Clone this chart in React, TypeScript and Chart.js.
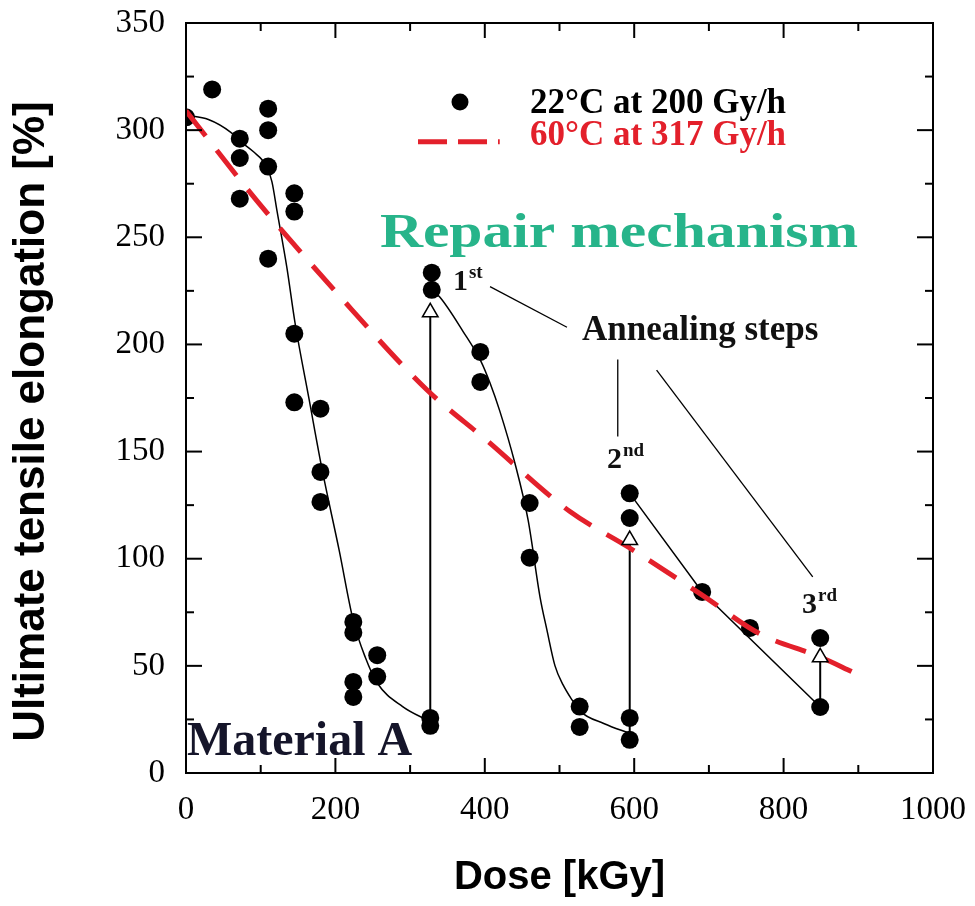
import React, { useEffect, useRef } from "react";
import { Chart, registerables } from "chart.js";

Chart.register(...registerables);

// ---- Data ----
// 22°C at 200 Gy/h : measured points
const doseA = [0, 35, 72, 72, 72, 110, 110, 110, 110, 145, 145, 145, 145, 180, 180, 180, 224, 224, 224, 224, 256, 256, 327, 327, 329, 329, 394, 394, 460, 460, 527, 527, 594, 594, 594, 594, 691, 755, 849, 849];
const elongA = [306, 319, 296, 287, 268, 310, 300, 283, 240, 270.5, 262, 205, 173, 170, 140.5, 126.5, 70.5, 65.5, 42.5, 35.5, 55, 45, 25.7, 22, 233.5, 225.5, 196.5, 182.5, 126, 100.5, 31, 21.5, 25.7, 15.5, 130.5, 119, 84.5, 67.7, 63, 30.8];

// Fitted curves for the 22°C data (three degradation segments)
const fit1Dose = [0, 30, 60, 72, 90, 108, 115, 122, 135, 146, 165, 182, 205, 224, 240, 256, 290, 327];
const fit1Elong = [307, 305, 299, 295, 290, 283, 276, 262, 236, 210, 174, 142, 104, 71, 54, 42, 31, 24];
const fit2Dose = [329, 340, 371, 395, 407, 420, 440, 458, 474, 483, 494, 505, 517, 527, 560, 594];
const fit2Elong = [225.5, 222, 206, 192, 182, 169, 145, 118, 82, 67, 50, 41, 34, 29, 23, 18.5];
const fit3Dose = [594, 691, 849];
const fit3Elong = [130.5, 84.5, 30.8];

// 60°C at 317 Gy/h : dashed curve
const dose60 = [0, 95, 202, 322, 400, 514, 594, 691, 768, 850, 893];
const elong60 = [309, 267, 224, 179, 156, 122, 105, 83, 65, 54, 47];

// Annealing steps: value before (bottom dot) and after (open triangle)
const annealDose = [327, 594, 849];
const annealBefore = [22, 15.5, 30.8];
const annealAfter = [215, 108.7, 54];

// Leader lines of the "Annealing steps" annotation
const leaderDose = [[407, 510], [578, 578], [630, 839]];
const leaderElong = [[227, 208], [193, 157], [188, 91.5]];

// Axis ticks
const xTickValues = [0, 200, 400, 600, 800, 1000];
const xMinorValues = [100, 300, 500, 700, 900];
const yTickValues = [0, 50, 100, 150, 200, 250, 300, 350];
const yMinorValues = [25, 75, 125, 175, 225, 275, 325];

const label22 = "22°C at 200 Gy/h";
const label60 = "60°C at 317 Gy/h";
const yTitle = "Ultimate tensile elongation [%]";

const RED = "#e3202b";
const GREEN = "#27b48a";
const SERIF = '"Liberation Serif", "Times New Roman", serif';
const SANS = '"Liberation Sans", Arial, sans-serif';

const pts = (xs: number[], ys: number[]) => xs.map((x, i) => ({ x, y: ys[i] }));

const decorPlugin = {
  id: "decor",
  afterDraw(chart: any) {
    const { ctx, chartArea: a } = chart;
    const xs = chart.scales.x;
    const ys = chart.scales.y;
    const X = (v: number) => xs.getPixelForValue(v);
    const Y = (v: number) => ys.getPixelForValue(v);
    ctx.save();

    // frame
    ctx.strokeStyle = "#000";
    ctx.lineWidth = 2;
    ctx.strokeRect(a.left, a.top, a.right - a.left, a.bottom - a.top);

    // inward tick marks on all four sides
    const seg = (x1: number, y1: number, x2: number, y2: number) => {
      ctx.beginPath();
      ctx.moveTo(x1, y1);
      ctx.lineTo(x2, y2);
      ctx.stroke();
    };
    ctx.lineWidth = 2;
    xTickValues.forEach((v) => {
      const p = X(v);
      seg(p, a.bottom, p, a.bottom - 15);
      seg(p, a.top, p, a.top + 15);
    });
    xMinorValues.forEach((v) => {
      const p = X(v);
      seg(p, a.bottom, p, a.bottom - 8);
      seg(p, a.top, p, a.top + 8);
    });
    yTickValues.forEach((v) => {
      const p = Y(v);
      seg(a.left, p, a.left + 16, p);
      seg(a.right, p, a.right - 16, p);
    });
    yMinorValues.forEach((v) => {
      const p = Y(v);
      seg(a.left, p, a.left + 8, p);
      seg(a.right, p, a.right - 8, p);
    });

    // y axis title
    ctx.save();
    ctx.translate(32, Y(164));
    ctx.rotate(-Math.PI / 2);
    ctx.font = `bold 44px ${SANS}`;
    ctx.fillStyle = "#000";
    ctx.textAlign = "center";
    ctx.textBaseline = "middle";
    ctx.fillText(yTitle, 0, 0);
    ctx.restore();

    // legend
    ctx.fillStyle = "#000";
    ctx.beginPath();
    ctx.arc(X(366.8), Y(313.1), 8.5, 0, Math.PI * 2);
    ctx.fill();
    ctx.strokeStyle = RED;
    ctx.lineWidth = 5;
    ctx.setLineDash([29, 11]);
    seg(X(310.6), Y(294.6), X(420), Y(294.6));
    ctx.setLineDash([]);

    ctx.textAlign = "left";
    ctx.textBaseline = "alphabetic";
    ctx.font = `bold 35px ${SERIF}`;
    ctx.fillStyle = "#000";
    ctx.fillText(label22, X(460.5), Y(308));
    ctx.fillStyle = RED;
    ctx.fillText(label60, X(460.5), Y(293));

    // Repair mechanism (stretched horizontally like the reference)
    ctx.font = `bold 48px ${SERIF}`;
    ctx.fillStyle = GREEN;
    const rt = "Repair mechanism";
    const w = ctx.measureText(rt).width;
    const targetW = X(1000) - X(360);
    ctx.save();
    ctx.translate(X(579.6), Y(245.5));
    ctx.scale(targetW / w, 1);
    ctx.textAlign = "center";
    ctx.fillText(rt, 0, 0);
    ctx.restore();

    // ordinal labels
    ctx.fillStyle = "#111";
    const ordinal = (num: string, sup: string, dv: number, ev: number) => {
      ctx.font = `bold 30px ${SERIF}`;
      const px = X(dv);
      const py = Y(ev);
      ctx.fillText(num, px, py);
      const nw = ctx.measureText(num).width;
      ctx.font = `bold 19px ${SERIF}`;
      ctx.fillText(sup, px + nw + 1, py - 12);
    };
    ordinal("1", "st", 357.4, 225.4);
    ordinal("2", "nd", 563.6, 142.3);
    ordinal("3", "rd", 824.6, 74.7);

    ctx.font = `bold 35px ${SERIF}`;
    ctx.fillText("Annealing steps", X(530.1), Y(202));

    // Material A
    ctx.font = `bold 48px ${SERIF}`;
    ctx.fillStyle = "#15152a";
    ctx.fillText("Material A", X(1.3), Y(8.4));

    ctx.restore();
  },
};

export default function App() {
  const ref = useRef<HTMLCanvasElement | null>(null);

  useEffect(() => {
    if (!ref.current) return;
    const lineDs = (data: any[], extra: any = {}) => ({
      data,
      showLine: true,
      borderColor: "#000",
      borderWidth: 1.5,
      pointRadius: 0,
      fill: false,
      ...extra,
    });

    const datasets: any[] = [
      {
        label: "anneal-after",
        data: pts(annealDose, annealAfter),
        pointStyle: "triangle",
        pointRadius: 9,
        pointBackgroundColor: "#fff",
        pointBorderColor: "#000",
        pointBorderWidth: 1.5,
        showLine: false,
        order: 0,
      },
      lineDs(pts(dose60, elong60), {
        label: label60,
        borderColor: RED,
        borderWidth: 5,
        borderDash: [32, 18],
        cubicInterpolationMode: "monotone",
        order: 1,
      }),
      {
        label: label22,
        data: pts(doseA, elongA),
        pointRadius: 9,
        pointBackgroundColor: "#000",
        pointBorderWidth: 0,
        showLine: false,
        order: 2,
      },
      lineDs(pts(fit1Dose, fit1Elong), { label: "fit1", cubicInterpolationMode: "monotone", order: 4 }),
      lineDs(pts(fit2Dose, fit2Elong), { label: "fit2", cubicInterpolationMode: "monotone", order: 4 }),
      lineDs(pts(fit3Dose, fit3Elong), { label: "fit3", order: 4 }),
    ];
    annealDose.forEach((d, i) => {
      datasets.push(
        lineDs(
          [
            { x: d, y: annealBefore[i] },
            { x: d, y: annealAfter[i] },
          ],
          { label: "anneal" + i, borderWidth: 2, order: 3 }
        )
      );
    });
    leaderDose.forEach((xs, i) => {
      datasets.push(lineDs(pts(xs, leaderElong[i]), { label: "leader" + i, borderWidth: 1.3, order: 3 }));
    });

    const chart = new Chart(ref.current, {
      type: "scatter",
      data: { datasets },
      options: {
        animation: false,
        responsive: true,
        maintainAspectRatio: false,
        layout: { padding: { top: 23, right: 42, left: 0, bottom: 0 } },
        plugins: { legend: { display: false }, tooltip: { enabled: false } },
        scales: {
          x: {
            type: "linear",
            min: 0,
            max: 1000,
            afterBuildTicks: (s: any) => {
              s.ticks = xTickValues.map((v) => ({ value: v }));
            },
            afterFit: (s: any) => {
              s.height = 133;
              s.paddingLeft = 0;
              s.paddingRight = 0;
            },
            grid: { display: false, drawTicks: false },
            border: { display: false },
            ticks: {
              color: "#000",
              font: { family: SERIF, size: 33 },
              padding: 18,
              maxRotation: 0,
              autoSkip: false,
              callback: (v: any) => String(v),
            },
            title: {
              display: true,
              text: "Dose [kGy]",
              color: "#000",
              font: { family: SANS, size: 40, weight: "bold" },
              padding: { top: 0, bottom: 4 },
            },
          },
          y: {
            type: "linear",
            min: 0,
            max: 350,
            afterBuildTicks: (s: any) => {
              s.ticks = yTickValues.map((v) => ({ value: v }));
            },
            afterFit: (s: any) => {
              s.width = 186;
              s.paddingTop = 0;
              s.paddingBottom = 0;
            },
            grid: { display: false, drawTicks: false },
            border: { display: false },
            ticks: {
              color: "#000",
              font: { family: SERIF, size: 33 },
              padding: 21,
              autoSkip: false,
              callback: (v: any) => String(v),
            },
            title: { display: false },
          },
        },
      },
      plugins: [decorPlugin],
    });
    return () => chart.destroy();
  }, []);

  return (
    <div style={{ position: "absolute", left: 0, top: 0, width: 975, height: 906, background: "#fff" }}>
      <canvas ref={ref} />
    </div>
  );
}
